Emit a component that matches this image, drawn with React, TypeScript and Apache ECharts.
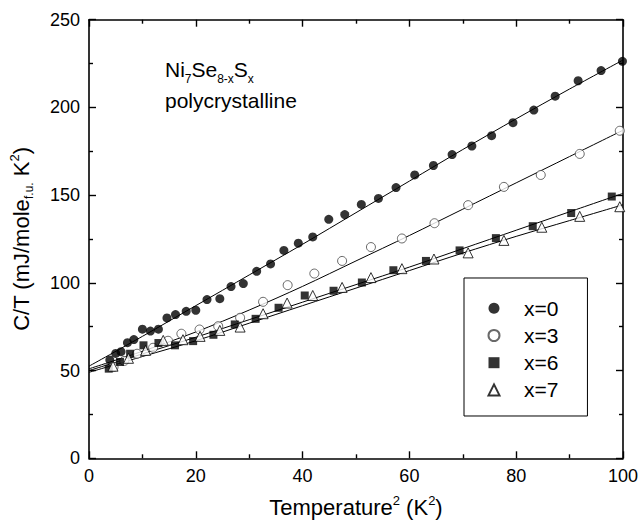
import React, { useEffect, useRef } from "react";
import * as echarts from "echarts";

// x = 0 (filled circles)
const x0X = [3.9, 5.0, 6.0, 7.2, 8.4, 10.0, 11.5, 13.0, 14.6, 16.2, 18.2, 20.0, 22.1, 24.5, 26.6, 28.9, 31.4, 34.0, 36.5, 39.2, 41.9, 44.9, 47.9, 51.0, 54.2, 57.5, 61.0, 64.5, 68.0, 71.7, 75.4, 79.4, 83.3, 87.3, 91.6, 95.9, 99.9];
const x0Y = [56.1, 59.8, 60.8, 65.9, 67.7, 73.6, 72.5, 73.6, 80.0, 81.9, 83.8, 84.4, 90.5, 91.0, 97.9, 99.6, 106.6, 110.8, 118.5, 122.6, 126.2, 136.2, 138.9, 144.7, 148.1, 154.3, 161.5, 166.9, 173.1, 178.0, 183.9, 191.3, 198.5, 206.4, 215.2, 221.0, 226.3];

// x = 3 (open circles)
const x3X = [4.6, 6.6, 9.0, 12.0, 14.8, 17.3, 20.7, 24.2, 28.3, 32.6, 37.2, 42.2, 47.4, 52.8, 58.6, 64.7, 71.0, 77.7, 84.6, 91.9, 99.4];
const x3Y = [52.0, 55.5, 59.6, 63.0, 67.0, 71.0, 73.4, 75.3, 80.1, 89.2, 98.7, 105.3, 112.5, 120.4, 125.3, 134.0, 144.3, 154.7, 161.5, 173.5, 186.7];

// x = 6 (filled squares)
const x6X = [3.7, 5.8, 7.7, 10.2, 13.0, 16.1, 19.5, 23.3, 27.3, 31.2, 35.5, 40.4, 45.8, 51.1, 57.0, 63.1, 69.4, 76.2, 83.1, 90.3, 97.9];
const x6Y = [51.1, 54.9, 59.6, 64.4, 65.7, 64.4, 66.8, 70.4, 76.3, 79.5, 85.8, 92.8, 95.5, 100.2, 107.2, 112.5, 118.5, 125.5, 132.3, 139.8, 149.2];

// x = 7 (open triangles)
const x7X = [4.5, 7.4, 10.6, 13.9, 17.6, 20.8, 24.5, 28.3, 32.6, 37.1, 41.9, 47.4, 52.8, 58.6, 64.6, 71.0, 77.7, 84.8, 91.9, 99.4];
const x7Y = [52.5, 57.0, 61.5, 67.2, 67.6, 69.5, 72.9, 74.8, 82.4, 88.5, 92.8, 97.4, 103.0, 108.1, 113.6, 117.1, 124.2, 131.7, 137.9, 143.4];

// fitted curves, read at these T^2 values
const fitX = [0, 10, 20, 30, 40, 50, 60, 70, 80, 90, 100];
const fit0 = [52.5, 69.5, 87, 104.5, 122, 140, 158, 176, 193.5, 210.5, 227];
const fit3 = [51, 61, 72, 84.5, 98, 112.5, 127, 142, 157, 172, 187];
const fit6 = [50, 59.5, 69, 79, 89, 99, 109, 119.5, 130, 140.5, 151];
const fit7 = [49, 58, 67, 77, 87, 97, 107, 117, 126.5, 135.5, 144.5];

const xTicks = [0, 20, 40, 60, 80, 100];
const yTicks = [0, 50, 100, 150, 200, 250];

const legendNames = ["x=0", "x=3", "x=6", "x=7"];

const FONT = "Arial, 'Liberation Sans', Helvetica, sans-serif";

const zip = (xs: number[], ys: number[]) => xs.map((x, i) => [x, ys[i]]);

export default function App() {
  const ref = useRef<HTMLDivElement>(null);
  useEffect(() => {
    if (!ref.current) return;
    const chart = echarts.init(ref.current, undefined, { renderer: "svg" });
    const axisCommon = {
      axisLine: { show: true, onZero: false, lineStyle: { color: "#000", width: 1.6 } },
      axisTick: { show: true, inside: true, length: 7, lineStyle: { color: "#000", width: 1.4 } },
      minorTick: { show: true, splitNumber: 2, length: 4, lineStyle: { color: "#000", width: 1.4 } },
      splitLine: { show: false },
      minorSplitLine: { show: false },
    };
    const lineSeries = (data: number[]) => ({
      type: "line",
      data: zip(fitX, data),
      smooth: 0.3,
      symbol: "none",
      lineStyle: { color: "#000", width: 1 },
      silent: true,
      z: 1,
    });
    chart.setOption({
      animation: false,
      backgroundColor: "#fff",
      grid: { left: 88.5, right: 16, top: 19.7, bottom: 66.7, containLabel: false },
      xAxis: [
        {
          type: "value",
          min: 0,
          max: 100,
          interval: 20,
          position: "bottom",
          ...axisCommon,
          axisLabel: {
            show: true,
            margin: 9,
            color: "#000",
            fontSize: 18,
            fontFamily: FONT,
            customValues: xTicks,
          },
          name: "Temperature{sup|2} (K{sup|2})",
          nameLocation: "middle",
          nameGap: 36,
          nameTextStyle: {
            color: "#000",
            fontSize: 22,
            fontFamily: FONT,
            rich: {
              sup: { fontSize: 13, fontFamily: FONT, color: "#000", padding: [0, 0, 14, 0] },
            },
          },
        },
        {
          type: "value",
          min: 0,
          max: 100,
          interval: 20,
          position: "top",
          ...axisCommon,
          axisLabel: { show: false },
        },
      ],
      yAxis: [
        {
          type: "value",
          min: 0,
          max: 250,
          interval: 50,
          position: "left",
          ...axisCommon,
          axisLabel: {
            show: true,
            margin: 9,
            color: "#000",
            fontSize: 18,
            fontFamily: FONT,
            customValues: yTicks,
          },
          name: "C/T (mJ/mole{sub|f.u.} K{sup|2})",
          nameLocation: "middle",
          nameGap: 54,
          nameTextStyle: {
            color: "#000",
            fontSize: 22,
            fontFamily: FONT,
            rich: {
              sup: { fontSize: 13, fontFamily: FONT, color: "#000", padding: [0, 0, 14, 0] },
              sub: { fontSize: 12, fontFamily: FONT, color: "#000", padding: [14, 0, 0, 0] },
            },
          },
        },
        {
          type: "value",
          min: 0,
          max: 250,
          interval: 50,
          position: "right",
          ...axisCommon,
          axisLabel: { show: false },
        },
      ],
      legend: {
        show: true,
        orient: "vertical",
        left: 464,
        top: 278,
        itemWidth: 11,
        itemHeight: 11,
        itemGap: 6.2,
        padding: [19.8, 29, 15.6, 23.5],
        borderColor: "#000",
        borderWidth: 1,
        backgroundColor: "#fff",
        selectedMode: false,
        data: legendNames,
        textStyle: { color: "#000", fontSize: 21, fontFamily: FONT, padding: [0, 0, 0, 19.5] },
      },
      graphic: [
        {
          type: "text",
          left: 165,
          top: 59,
          style: {
            text: "Ni{sub|7}Se{sub|8-x}S{sub|x}",
            fill: "#000",
            fontSize: 21,
            fontFamily: FONT,
            rich: {
              sub: { fontSize: 12, fontFamily: FONT, fill: "#000", padding: [19, 0, 0, 0] },
            },
          },
        },
        {
          type: "text",
          left: 165,
          top: 90,
          style: {
            text: "polycrystalline",
            fill: "#000",
            fontSize: 21,
            fontFamily: FONT,
          },
        },
      ],
      series: [
        lineSeries(fit0),
        lineSeries(fit3),
        lineSeries(fit6),
        lineSeries(fit7),
        {
          name: "x=0",
          type: "scatter",
          data: zip(x0X, x0Y),
          symbol: "circle",
          symbolSize: 9,
          itemStyle: { color: "#000" },
          z: 3,
        },
        {
          name: "x=3",
          type: "scatter",
          data: zip(x3X, x3Y),
          symbol: "circle",
          symbolSize: 9,
          itemStyle: { color: "#fff", borderColor: "#444", borderWidth: 1 },
          z: 3,
        },
        {
          name: "x=6",
          type: "scatter",
          data: zip(x6X, x6Y),
          symbol: "rect",
          symbolSize: 8,
          itemStyle: { color: "#000" },
          z: 3,
        },
        {
          name: "x=7",
          type: "scatter",
          data: zip(x7X, x7Y),
          symbol: "triangle",
          symbolSize: 10,
          itemStyle: { color: "#fff", borderColor: "#000", borderWidth: 1 },
          z: 3,
        },
      ],
    });
    return () => chart.dispose();
  }, []);
  return <div ref={ref} style={{ width: 641, height: 525, position: "absolute", left: 0, top: 0 }} />;
}
